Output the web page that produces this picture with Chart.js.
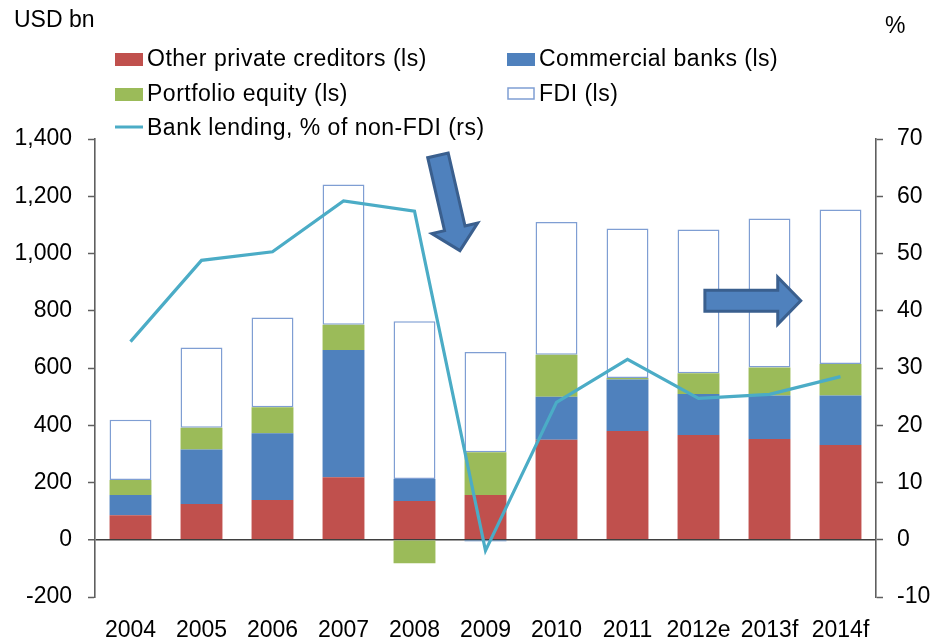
<!DOCTYPE html>
<html>
<head>
<meta charset="utf-8">
<script src="https://cdn.jsdelivr.net/npm/chart.js@4.4.1/dist/chart.umd.min.js"></script>
<style>
  html, body { margin: 0; padding: 0; background: #fff; }
  #chart { display: block; }
</style>
</head>
<body>
<canvas id="chart" width="933" height="641"></canvas>
<script>
// Capital flows by type (USD bn, left scale) and bank share (%, right scale)
const years = ['2004', '2005', '2006', '2007', '2008', '2009', '2010', '2011', '2012e', '2013f', '2014f'];
const otherPrivate = [86, 125, 139, 218, 135, 156, 349, 380, 366, 352, 331];
const commercialBanks = [70, 190, 233, 445, 77, -5, 151, 180, 143, 152, 173];
const portfolioEquity = [53, 76, 91, 88, -82, 150, 146, 5, 73, 98, 110];
const fdi = [210, 281, 313, 490, 551, 350, 464, 522, 502, 520, 540];
const bankLending = [34.6, 48.8, 50.3, 59.2, 57.4, -1.9, 24.0, 31.5, 24.7, 25.4, 28.5];

const leftTicks = { min: -200, max: 1400, step: 200 };
const rightTicks = { min: -10, max: 70, step: 10 };

// Block arrows, in data units: [category index, left-axis value]
const arrows = [
    { from: [4.33, 1343], to: [4.64, 1010] },
    { from: [8.09, 835], to: [9.44, 835] },
];

const FONT = '"Liberation Sans", Arial, sans-serif';
const AXIS_GREY = '#5f5f5f';

// Two-column legend drawn over the top of the plot
const legendItems = [
    { ds: 1, col: 0, row: 0 },
    { ds: 2, col: 1, row: 0 },
    { ds: 3, col: 0, row: 1 },
    { ds: 4, col: 1, row: 1 },
    { ds: 0, col: 0, row: 2 },
];

const overlayPlugin = {
    id: 'overlay',
    afterDatasetsDraw(chart) {
        const ctx = chart.ctx;
        const xs = chart.scales.x;
        const ys = chart.scales.y;
        ctx.save();
        arrows.forEach(a => {
            const x0 = xs.getPixelForValue(a.from[0]);
            const y0 = ys.getPixelForValue(a.from[1]);
            const x1 = xs.getPixelForValue(a.to[0]);
            const y1 = ys.getPixelForValue(a.to[1]);
            const len = Math.hypot(x1 - x0, y1 - y0);
            const hw = 10.5, headW = 23.5, headL = 23;
            ctx.save();
            ctx.translate(x0, y0);
            ctx.rotate(Math.atan2(y1 - y0, x1 - x0));
            ctx.beginPath();
            ctx.moveTo(0, -hw);
            ctx.lineTo(len - headL, -hw);
            ctx.lineTo(len - headL, -headW);
            ctx.lineTo(len, 0);
            ctx.lineTo(len - headL, headW);
            ctx.lineTo(len - headL, hw);
            ctx.lineTo(0, hw);
            ctx.closePath();
            ctx.fillStyle = '#4F81BD';
            ctx.fill();
            ctx.lineWidth = 3;
            ctx.lineJoin = 'miter';
            ctx.strokeStyle = '#3A5F8E';
            ctx.stroke();
            ctx.restore();
        });
        ctx.restore();
    },
    afterDraw(chart) {
        const ctx = chart.ctx;
        ctx.save();
        ctx.fillStyle = '#000';
        ctx.font = '23px ' + FONT;
        ctx.textBaseline = 'middle';
        ctx.textAlign = 'left';
        ctx.fillText('USD bn', 14, 21);
        ctx.fillText('%', 885, 27);

        const colX = [115, 507];
        const rowY = [60, 95, 129];
        ctx.letterSpacing = '0.5px';
        legendItems.forEach(it => {
            const ds = chart.data.datasets[it.ds];
            const x = colX[it.col];
            const y = rowY[it.row];
            if (ds.type === 'line') {
                ctx.strokeStyle = ds.borderColor;
                ctx.lineWidth = 3;
                ctx.beginPath();
                ctx.moveTo(x, y - 2);
                ctx.lineTo(x + 28, y - 2);
                ctx.stroke();
            } else if (ds.backgroundColor === '#ffffff') {
                ctx.fillStyle = '#fff';
                ctx.fillRect(x + 1, y - 7, 26, 11);
                ctx.strokeStyle = ds.borderColor;
                ctx.lineWidth = 1.5;
                ctx.strokeRect(x + 1, y - 7, 26, 11);
            } else {
                ctx.fillStyle = ds.backgroundColor;
                ctx.fillRect(x, y - 7, 28, 13);
            }
            ctx.fillStyle = '#000';
            ctx.fillText(ds.label, x + 32, y);
        });
        ctx.restore();
    },
};

new Chart(document.getElementById('chart'), {
    type: 'bar',
    data: {
        labels: years,
        datasets: [
            {
                type: 'line',
                label: 'Bank lending, % of non-FDI (rs)',
                data: bankLending,
                yAxisID: 'y2',
                borderColor: '#4BACC6',
                borderWidth: 3.2,
                pointRadius: 0,
                tension: 0,
                order: 0,
            },
            {
                label: 'Other private creditors (ls)',
                data: otherPrivate,
                backgroundColor: '#C0504D',
                stack: 'flows',
                order: 1,
            },
            {
                label: 'Commercial banks (ls)',
                data: commercialBanks,
                backgroundColor: '#4F81BD',
                stack: 'flows',
                order: 1,
            },
            {
                label: 'Portfolio equity (ls)',
                data: portfolioEquity,
                backgroundColor: '#9BBB59',
                stack: 'flows',
                order: 1,
            },
            {
                label: 'FDI (ls)',
                data: fdi,
                backgroundColor: '#ffffff',
                borderColor: '#7F9ED3',
                borderWidth: 1.5,
                borderSkipped: false,
                stack: 'flows',
                order: 1,
            },
        ],
    },
    options: {
        responsive: false,
        devicePixelRatio: 1,
        animation: false,
        layout: { padding: { top: 139, left: 0, right: 0, bottom: 0 } },
        datasets: {
            bar: { categoryPercentage: 1, barPercentage: 0.59 },
        },
        plugins: {
            legend: { display: false },
            tooltip: { enabled: false },
        },
        scales: {
            x: {
                stacked: true,
                grid: { display: false, drawTicks: false },
                border: { display: false },
                ticks: { color: '#000', font: { family: FONT, size: 23 }, padding: 20, maxRotation: 0, autoSkip: false },
                afterFit: (s) => { s.height = 44; },
            },
            y: {
                position: 'left',
                stacked: true,
                min: leftTicks.min,
                max: leftTicks.max,
                grid: {
                    drawOnChartArea: true,
                    color: (c) => (c.tick && c.tick.value === 0 ? '#3f3f3f' : 'rgba(0,0,0,0)'),
                    lineWidth: (c) => (c.tick && c.tick.value === 0 ? 1.5 : 1),
                    tickColor: AXIS_GREY,
                    tickLength: 7,
                    tickWidth: 1.5,
                },
                border: { display: true, color: AXIS_GREY, width: 1.6 },
                ticks: {
                    stepSize: leftTicks.step,
                    color: '#000',
                    padding: 16,
                    font: { family: FONT, size: 23 },
                    callback: (v) => v.toLocaleString('en-US'),
                },
                afterFit: (s) => { s.width = 95; },
            },
            y2: {
                position: 'right',
                min: rightTicks.min,
                max: rightTicks.max,
                grid: {
                    drawOnChartArea: false,
                    tickColor: AXIS_GREY,
                    tickLength: 7,
                    tickWidth: 1.5,
                },
                border: { display: true, color: AXIS_GREY, width: 1.6 },
                ticks: {
                    stepSize: rightTicks.step,
                    color: '#000',
                    padding: 14,
                    font: { family: FONT, size: 23 },
                },
                afterFit: (s) => { s.width = 57; },
            },
        },
    },
    plugins: [overlayPlugin],
});
</script>
</body>
</html>
